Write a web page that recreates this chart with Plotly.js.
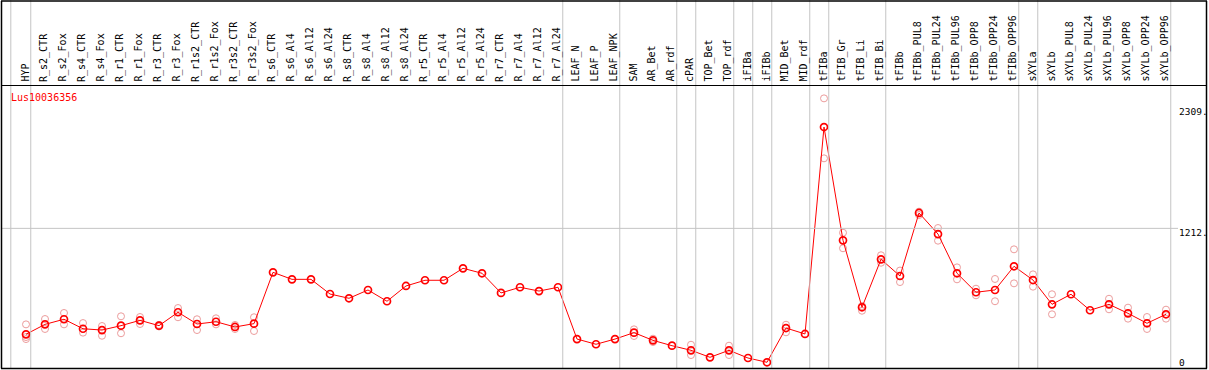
<!DOCTYPE html>
<html>
<head>
<meta charset="utf-8">
<script src="https://cdn.plot.ly/plotly-3.0.1.min.js"></script>
<style>html,body{margin:0;padding:0;background:#fff;overflow:hidden;width:1209px;height:370px;}#chart{display:block;width:1209px;height:370px;}</style>
</head>
<body>
<div id="chart"></div>
<script>
const geneName = "Lus10036356";
const sampleLabels = ["HYP","R_s2_CTR","R_s2_Fox","R_s4_CTR","R_s4_Fox","R_r1_CTR","R_r1_Fox","R_r3_CTR","R_r3_Fox","R_r1s2_CTR","R_r1s2_Fox","R_r3s2_CTR","R_r3s2_Fox","R_s6_CTR","R_s6_Al4","R_s6_Al12","R_s6_Al24","R_s8_CTR","R_s8_Al4","R_s8_Al12","R_s8_Al24","R_r5_CTR","R_r5_Al4","R_r5_Al12","R_r5_Al24","R_r7_CTR","R_r7_Al4","R_r7_Al12","R_r7_Al24","LEAF_N","LEAF_P","LEAF_NPK","SAM","AR_Bet","AR_rdf","cPAR","TOP_Bet","TOP_rdf","iFIBa","iFIBb","MID_Bet","MID_rdf","tFIBa","tFIB_Gr","tFIB_Li","tFIB_Bi","tFIBb","tFIBb_PUL8","tFIBb_PUL24","tFIBb_PUL96","tFIBb_OPP8","tFIBb_OPP24","tFIBb_OPP96","sXYLa","sXYLb","sXYLb_PUL8","sXYLb_PUL24","sXYLb_PUL96","sXYLb_OPP8","sXYLb_OPP24","sXYLb_OPP96"];
const meanValues = [318,402,445,365,354,391,436,391,504,405,424,380,408,841,782,782,658,622,692,597,726,774,774,875,833,667,715,683,715,278,234,278,332,267,222,183,124,183,118,82,371,321,2067,1111,546,951,810,1342,1164,833,673,692,892,776,571,656,521,571,495,411,487];
const repA = [402,447,498,413,388,470,464,398,540,445,453,397,462,null,null,null,null,null,null,null,null,null,null,null,null,null,null,null,null,null,null,null,360,281,null,230,null,222,null,null,399,null,2309,1175,557,985,856,1353,1215,883,703,785,1035,824,656,null,null,618,543,464,526];
const repB = [295,363,402,332,306,327,405,384,462,354,402,363,346,null,null,null,null,null,null,null,null,null,null,null,null,null,null,null,null,null,null,null,304,253,null,143,null,143,null,null,335,null,1803,1044,517,922,759,1325,1108,782,647,597,748,720,487,null,null,529,450,363,450];
const repC = [278,null,null,null,null,null,null,null,null,null,null,null,null,null,null,null,null,null,null,null,null,null,null,null,null,null,null,null,null,null,null,null,null,null,null,null,null,null,null,null,null,null,null,null,null,null,null,null,null,null,null,null,null,null,null,null,null,null,null,null,null];
const groupEnds = [0,28,31,34,35,37,38,39,41,42,45,52,53,60];
const axisLabels = ["2309.","1212.","0"];
const axisLabelValues = [2309,1212,0];

const W = 1209, H = 370;
const colStart = 26, colStep = 19;
const pxPerUnit = 0.11851, zeroY = 372;
const px = x => x / W;
const py = y => 1 - y / H;
const idx = sampleLabels.map((_, i) => i);
const mono = "'DejaVu Sans Mono', 'Liberation Mono', monospace";

const traces = [];
[repA, repB, repC].forEach(r => {
  traces.push({x: idx, y: r, type: 'scatter', mode: 'markers', hoverinfo: 'skip',
    marker: {symbol: 'circle-open', size: 7, color: '#ec9c9c', line: {width: 1, color: '#ec9c9c'}}});
});
traces.push({x: idx, y: meanValues, type: 'scatter', mode: 'lines+markers',
  line: {color: '#ff0000', width: 1},
  marker: {symbol: 'circle-open', size: 7, color: '#ff0000', line: {width: 1.7, color: '#ff0000'}}});

const shapes = [];
const sepPositions = [-0.8].concat(groupEnds.map(e => e + 0.25));
sepPositions.forEach(p => {
  shapes.push({type: 'line', xref: 'x', yref: 'paper', x0: p, x1: p, y0: py(369), y1: py(0),
    line: {color: '#c4c4c4', width: 1}});
});
shapes.push({type: 'line', xref: 'paper', yref: 'y', x0: px(1.5), x1: px(1178), y0: axisLabelValues[1], y1: axisLabelValues[1],
  line: {color: '#c4c4c4', width: 1}});
shapes.push({type: 'line', xref: 'paper', yref: 'paper', x0: px(1.5), x1: px(1206.5), y0: py(85.5), y1: py(85.5),
  line: {color: '#000', width: 1}});
const frame = [[1, 1, 1207, 1], [1, 368.5, 1207, 368.5], [1.5, 1, 1.5, 368.5], [1206.5, 1, 1206.5, 368.5]];
frame.forEach(f => {
  shapes.push({type: 'line', xref: 'paper', yref: 'paper', x0: px(f[0]), y0: py(f[1]), x1: px(f[2]), y1: py(f[3]),
    line: {color: '#000', width: 1.5}});
});

const annotations = [];
sampleLabels.forEach((lab, i) => {
  annotations.push({x: i, y: py(84), xref: 'x', yref: 'paper', text: lab, showarrow: false,
    textangle: -90, xanchor: 'center', yanchor: 'bottom', xshift: -1.5,
    font: {family: mono, size: 10, color: '#000'}});
});
annotations.push({x: px(9), y: py(98), xref: 'paper', yref: 'paper', text: geneName, showarrow: false,
  xanchor: 'left', yanchor: 'middle', font: {family: mono, size: 10, color: '#ff0000'}});
const labelCenters = [111.5, 232.7, 362];
axisLabels.forEach((t, k) => {
  annotations.push({x: px(1177), y: py(labelCenters[k]), xref: 'paper', yref: 'paper', text: t, showarrow: false,
    xanchor: 'left', yanchor: 'middle', font: {family: mono, size: 9.5, color: '#000'}});
});

const layout = {
  width: W, height: H,
  margin: {l: 0, r: 0, t: 0, b: 0, pad: 0},
  paper_bgcolor: '#fff', plot_bgcolor: '#fff',
  showlegend: false,
  xaxis: {range: [-colStart / colStep, (W - colStart) / colStep], showgrid: false, zeroline: false,
    showticklabels: false, ticks: '', showline: false, fixedrange: true},
  yaxis: {range: [(zeroY - H) / pxPerUnit, zeroY / pxPerUnit], showgrid: false, zeroline: false,
    showticklabels: false, ticks: '', showline: false, fixedrange: true},
  shapes: shapes,
  annotations: annotations
};
Plotly.newPlot('chart', traces, layout, {displayModeBar: false, staticPlot: true});
</script>
</body>
</html>
